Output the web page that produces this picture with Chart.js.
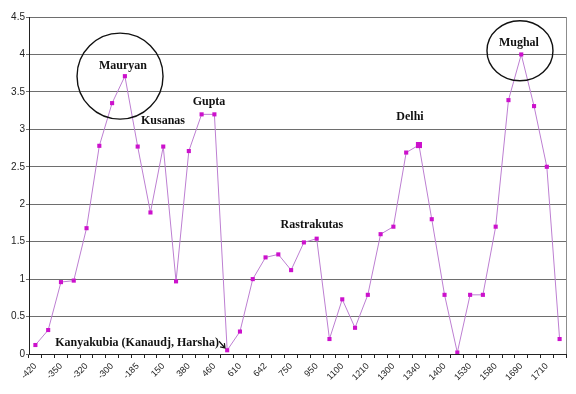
<!DOCTYPE html>
<html>
<head>
<meta charset="utf-8">
<script src="https://cdn.jsdelivr.net/npm/chart.js@4"></script>
<style>
	html, body { margin: 0; padding: 0; background: #fff; }
	#wrap { width: 576px; height: 394px; }
</style>
</head>
<body>
<div id="wrap"><canvas id="canvas" width="576" height="394"></canvas></div>
<script>
// tick labels, shown on every second category
const tickLabels = ['-420', '-350', '-320', '-300', '-185', '150', '380', '460', '610', '642',
	'750', '950', '1100', '1210', '1300', '1340', '1400', '1530', '1580', '1690', '1710'];

// series values (42 points)
const values = [0.12, 0.32, 0.96, 0.98, 1.68, 2.78, 3.35, 3.71, 2.77, 1.89,
	2.77, 0.97, 2.71, 3.2, 3.2, 0.05, 0.30, 1.0, 1.29, 1.33,
	1.12, 1.49, 1.54, 0.20, 0.73, 0.35, 0.79, 1.60, 1.70, 2.69,
	2.79, 1.80, 0.79, 0.02, 0.79, 0.79, 1.70, 3.39, 4.0, 3.31,
	2.50, 0.20];

// dynasty notes: [text, category index, value]
const notes = [
	['Mauryan', 6.85, 3.85],
	['Kusanas', 9.98, 3.11],
	['Gupta', 13.58, 3.36],
	['Rastrakutas', 21.63, 1.73],
	['Delhi', 29.3, 3.16],
	['Mughal', 37.82, 4.16],
	['Kanyakubia (Kanaudj, Harsha)', 7.95, 0.15]
];

// circles: [category index, value, radius x, radius y]
const rings = [
	[6.62, 3.71, 43, 43],
	[37.9, 4.05, 33, 30]
];

const bigPoint = 30; // the larger marker (1340)

const labels = [];
for (let i = 0; i < values.length; i++) {
	labels.push(i % 2 === 0 ? tickLabels[i / 2] : '');
}

const notesPlugin = {
	id: 'notes',
	afterDatasetsDraw(chart) {
		const ctx = chart.ctx;
		const xs = chart.scales.x;
		const ys = chart.scales.y;
		const area = chart.chartArea;
		ctx.save();

		// right frame line
		ctx.strokeStyle = '#8c8c8c';
		ctx.lineWidth = 1;
		ctx.beginPath();
		ctx.moveTo(Math.round(area.right) + 0.5, area.top);
		ctx.lineTo(Math.round(area.right) + 0.5, area.bottom);
		ctx.stroke();

		ctx.fillStyle = '#111';
		ctx.font = 'bold 12px "Liberation Serif", serif';
		ctx.textAlign = 'center';
		ctx.textBaseline = 'middle';
		for (const n of notes) {
			ctx.fillText(n[0], xs.getPixelForValue(n[1]), ys.getPixelForValue(n[2]));
		}

		ctx.strokeStyle = '#111';
		ctx.lineWidth = 1.4;
		for (const r of rings) {
			ctx.beginPath();
			ctx.ellipse(xs.getPixelForValue(r[0]), ys.getPixelForValue(r[1]), r[2], r[3], 0, 0, Math.PI * 2);
			ctx.stroke();
		}

		// small arrow from the Kanyakubia note to its point
		const x0 = xs.getPixelForValue(14.36), y0 = ys.getPixelForValue(0.17);
		const x1 = xs.getPixelForValue(14.83), y1 = ys.getPixelForValue(0.08);
		const ang = Math.atan2(y1 - y0, x1 - x0);
		ctx.lineWidth = 1.2;
		ctx.beginPath();
		ctx.moveTo(x0, y0);
		ctx.lineTo(x1, y1);
		ctx.moveTo(x1 - 5 * Math.cos(ang - 0.6), y1 - 5 * Math.sin(ang - 0.6));
		ctx.lineTo(x1, y1);
		ctx.lineTo(x1 - 5 * Math.cos(ang + 0.6), y1 - 5 * Math.sin(ang + 0.6));
		ctx.stroke();

		ctx.restore();
	}
};

const ctx = document.getElementById('canvas').getContext('2d');
new Chart(ctx, {
	type: 'line',
	data: {
		labels: labels,
		datasets: [{
			data: values,
			borderColor: '#bd7fd2',
			borderWidth: 1,
			tension: 0,
			pointStyle: 'rect',
			pointRadius: values.map((v, i) => i === bigPoint ? 4.3 : 2.9),
			pointBackgroundColor: '#cc11cc',
			pointBorderColor: '#cc11cc',
			pointBorderWidth: 0
		}]
	},
	options: {
		responsive: false,
		animation: false,
		layout: { padding: { top: 17, right: 10, left: 0, bottom: 0 } },
		plugins: {
			legend: { display: false },
			tooltip: { enabled: false }
		},
		scales: {
			x: {
				offset: true,
				afterFit: (s) => { s.height = 40; },
				grid: {
					offset: true,
					drawOnChartArea: false,
					drawTicks: true,
					tickLength: 4,
					color: '#222'
				},
				border: { color: '#222', width: 1 },
				ticks: {
					autoSkip: false,
					minRotation: 45,
					maxRotation: 45,
					padding: 3,
					color: '#222',
					font: { family: '"Liberation Sans", Arial, sans-serif', size: 9 }
				}
			},
			y: {
				min: 0,
				max: 4.5,
				afterFit: (s) => { s.width = 29; },
				grid: {
					color: '#6e6e6e',
					tickLength: 3,
					drawTicks: true
				},
				border: { color: '#222', width: 1 },
				ticks: {
					stepSize: 0.5,
					padding: 1,
					color: '#222',
					callback: (v) => String(v),
					font: { family: '"Liberation Sans", Arial, sans-serif', size: 10 }
				}
			}
		}
	},
	plugins: [notesPlugin]
});
</script>
</body>
</html>
